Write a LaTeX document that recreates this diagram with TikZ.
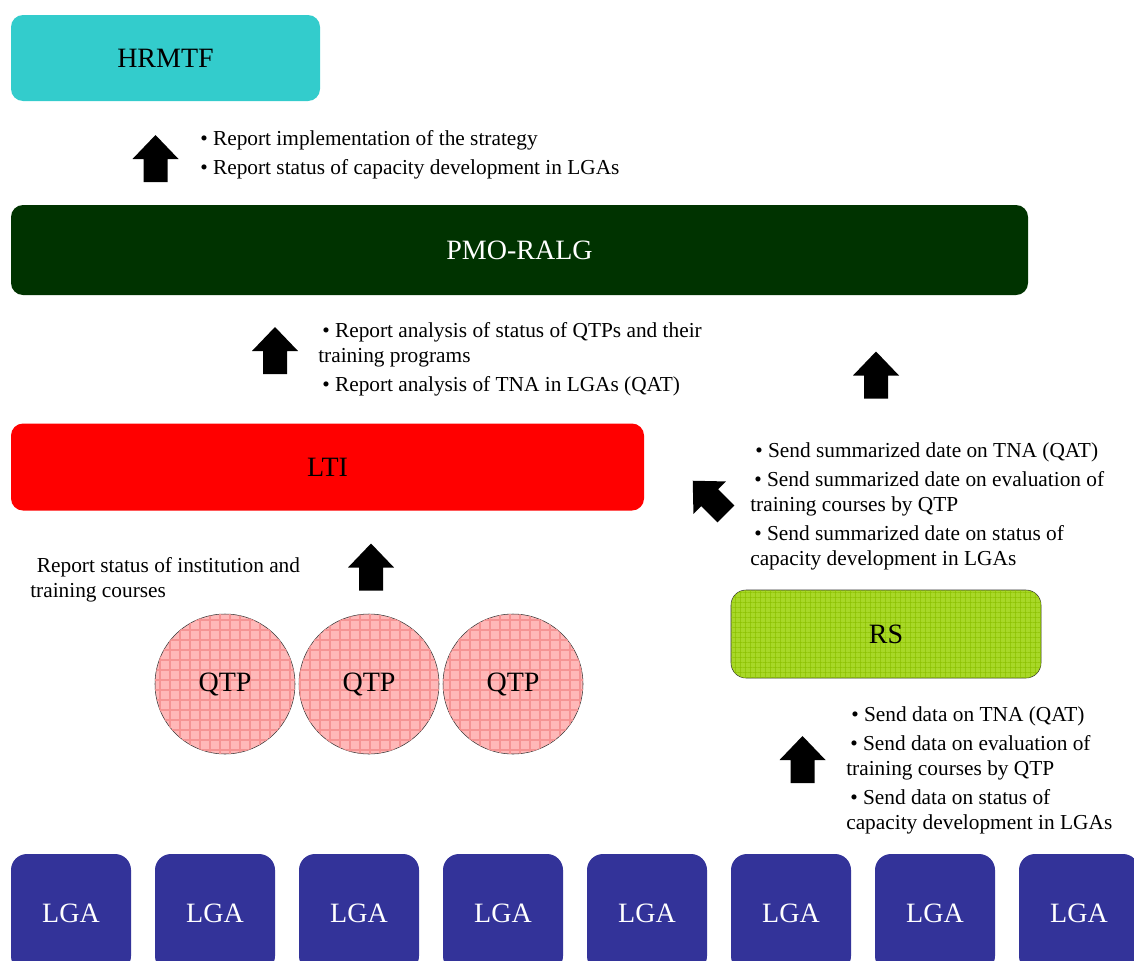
\documentclass[tikz,border=0pt]{standalone}
\usepackage{fontspec}
\setmainfont{Liberation Serif}
\usetikzlibrary{patterns.meta}

\definecolor{hrcyan}{HTML}{33CCCC}
\definecolor{pmogreen}{HTML}{003300}
\definecolor{lgablue}{HTML}{333399}
\definecolor{rsgreen}{HTML}{A8D828}
\definecolor{rsline}{HTML}{8CC000}
\definecolor{qtppink}{HTML}{FFB8B8}
\definecolor{qtpline}{HTML}{F59494}
\newcommand{\unitpx}{0.75pt}

\tikzset{
  unit box/.style={rounded corners=12*\unitpx, inner sep=0pt, font=\fontsize{21}{25}\selectfont},
  note/.style={anchor=base west, inner sep=0pt, align=left, font=\fontsize{16}{18.75}\selectfont},
  up arrow/.pic={\fill[black] (-12,24) -- (-12,1) -- (-23,1) -- (0,-23) -- (23,1) -- (12,1) -- (12,24) -- cycle;},
}

\begin{document}
\begin{tikzpicture}[x={(0.75pt,0pt)}, y={(0pt,-0.75pt)}, line join=round]
    \useasboundingbox (0,0) rectangle (1134,960);
    \clip (0,0) rectangle (1134,960);

    % Top level boxes
    \node[unit box, fill=hrcyan, minimum width=309*\unitpx, minimum height=86*\unitpx] (hrmtf) at (165.5,58) {HRMTF};
    \node[unit box, fill=pmogreen, text=white, minimum width=1017*\unitpx, minimum height=90*\unitpx] (pmo) at (519.5,250) {PMO-RALG};
    \node[unit box, fill=red, minimum width=633*\unitpx, minimum height=87*\unitpx] (lti) at (327.5,467) {LTI};

    % Regional secretariat
    \node[unit box, rounded corners=15*\unitpx, draw=black!80, thin, fill=rsgreen,
          postaction={pattern={Hatch[distance=4pt, line width=0.6pt]}, pattern color=rsline},
          minimum width=310*\unitpx, minimum height=88*\unitpx] (rs) at (886,634) {RS};

    % Training providers
    \foreach \i/\cx in {1/225, 2/369, 3/513}
        \node[circle, draw=black!80, thin, fill=qtppink, inner sep=0pt,
              postaction={pattern={Hatch[distance=7.5pt, line width=1pt]}, pattern color=qtpline},
              minimum size=140*\unitpx, font=\fontsize{21}{25}\selectfont] (qtp\i) at (\cx,684) {QTP};

    % Local government authorities
    \foreach \i in {0,...,7}
        \node[unit box, rounded corners=16*\unitpx, fill=lgablue, text=white,
              minimum width=120*\unitpx, minimum height=118*\unitpx] (lga\i) at (71+144*\i,913) {LGA};

    % Block arrows
    \pic at (155.5,158) {up arrow};
    \pic at (275,350) {up arrow};
    \pic at (876,374.5) {up arrow};
    \pic at (371,566.5) {up arrow};
    \pic at (802.5,759) {up arrow};
    \pic[rotate=45] at (709,497) {up arrow};

    % Reports to HRMTF
    \node[note] (hrnote1) at (200,145) {\textbullet\ Report implementation of the strategy};
    \node[note] (hrnote2) at (200,174) {\textbullet\ Report status of capacity development in LGAs};

    % Reports to PMO-RALG
    \node[note] (pmonote1) at (318,362) {\hspace*{3pt}\textbullet\ Report analysis of status of QTPs and their\\training programs};
    \node[note] (pmonote2) at (322,391) {\textbullet\ Report analysis of TNA in LGAs (QAT)};

    % Reports from RS
    \node[note] (rsnote1) at (755,457) {\textbullet\ Send summarized date on TNA (QAT)};
    \node[note] (rsnote2) at (750,511) {\hspace*{3pt}\textbullet\ Send summarized date on evaluation of\\training courses by QTP};
    \node[note] (rsnote3) at (750,565) {\hspace*{3pt}\textbullet\ Send summarized date on status of\\capacity development in LGAs};

    % Reports from QTPs
    \node[note] (qtpnote) at (30,597) {\hspace*{5pt}Report status of institution and\\training courses};

    % Reports from LGAs
    \node[note] (lganote1) at (851,721) {\textbullet\ Send data on TNA (QAT)};
    \node[note] (lganote2) at (846,775) {\hspace*{3pt}\textbullet\ Send data on evaluation of\\training courses by QTP};
    \node[note] (lganote3) at (846,829) {\hspace*{3pt}\textbullet\ Send data on status of\\capacity development in LGAs};
\end{tikzpicture}
\end{document}
